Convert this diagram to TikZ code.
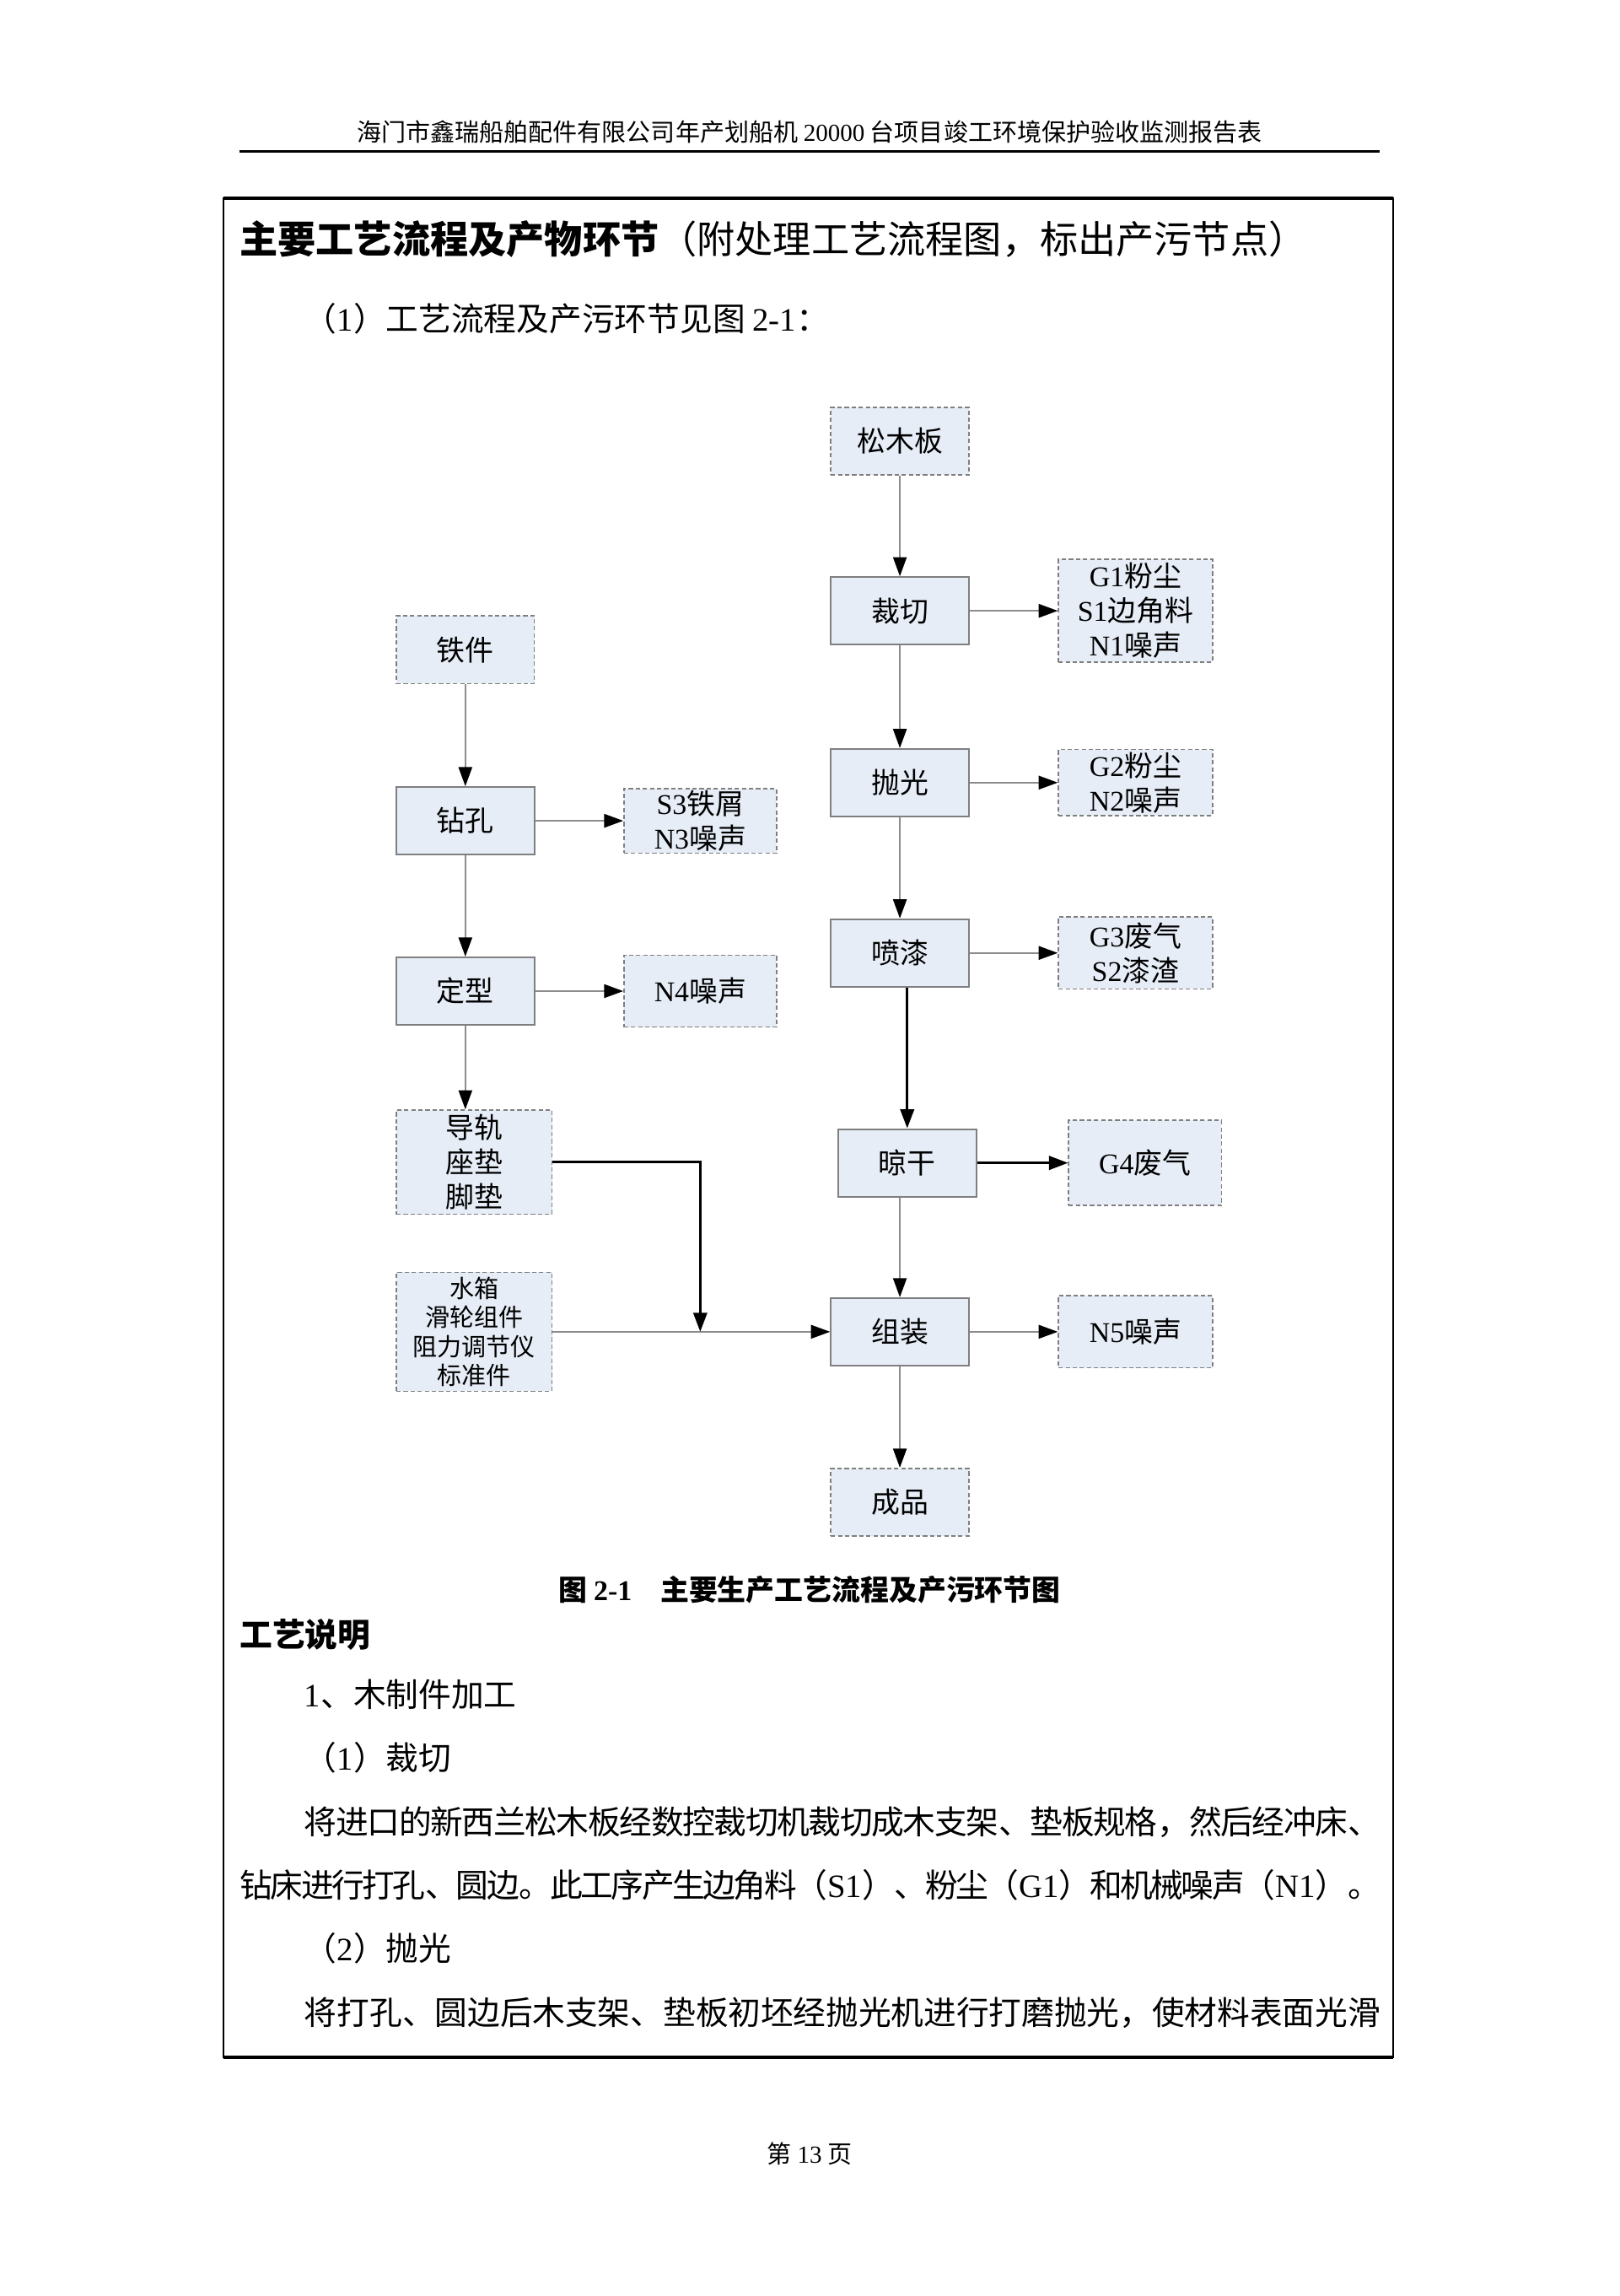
\documentclass[tikz,border=0pt]{standalone}
\usepackage{fontspec}
\setmainfont{Noto Sans CJK SC}
\newfontfamily\tnr{Liberation Serif}
\usetikzlibrary{positioning,arrows.meta}
\XeTeXlinebreaklocale "zh"
\XeTeXlinebreakskip=0pt plus 1pt minus 1pt
\definecolor{boxfill}{HTML}{E6EDF7}
\definecolor{boxline}{HTML}{7F7F7F}
\definecolor{flowline}{HTML}{8C8C8C}
\newdimen\upx
\upx=0.5394pt
\tikzset{
  proc/.style={draw=boxline, fill=boxfill, line width=0.6pt, inner sep=0pt,
    minimum width=94\upx, minimum height=46\upx, align=center,
    font=\fontsize{10.5}{12.7}\selectfont},
  part/.style={proc, dash pattern=on 1.6pt off 1pt, line width=0.5pt},
  waste/.style={part, minimum width=105\upx},
  flow/.style={draw=flowline, line width=0.5pt, -{Triangle[length=7pt,width=5pt,color=black]}},
  flowk/.style={flow, draw=black, line width=1pt},
  txt/.style={inner sep=0pt, anchor=west, font=\fontsize{12}{14}\selectfont},
}

\begin{document}
\begin{tikzpicture}[x=\upx, y=-\upx]
\useasboundingbox (0,0) rectangle (1103,1563.7);

% page head and frame
\node[inner sep=0pt, font=\fontsize{9}{11}\selectfont] (hdr) at (551.5,90)
  {海门市鑫瑞船舶配件有限公司年产划船机 {\tnr 20000} 台项目竣工环境保护验收监测报告表};
\draw[line width=1.1pt] (163,103) -- (940,103);
\draw[line width=0.6pt] (152,135) rectangle (949,1401);
\draw[line width=1.2pt] (152,135) -- (949,135) (152,1401) -- (949,1401);

\node[txt, font=\fontsize{14}{16}\selectfont] (ttl) at (163,163)
  {\textbf{主要工艺流程及产物环节}（附处理工艺流程图，标出产污节点）};
\node[txt] (sub) at (207,217) {（{\tnr 1}）工艺流程及产污环节见图 {\tnr 2-1}：};

% wood line
\node[part] (smb) at (613,300.5) {松木板};
\node[proc] (cq) at (613,416) {裁切};
\node[waste, minimum height=70\upx, right=60\upx of cq] (wcq)
  {{\tnr G1}粉尘\\{\tnr S1}边角料\\{\tnr N1}噪声};
\node[proc] (pg) at (613,533) {抛光};
\node[waste, minimum height=45\upx, right=60\upx of pg] (wpg) {{\tnr G2}粉尘\\{\tnr N2}噪声};
\node[proc] (pq) at (613,649) {喷漆};
\node[waste, minimum height=49\upx, right=60\upx of pq] (wpq) {{\tnr G3}废气\\{\tnr S2}漆渣};
\node[proc] (lg) at (618,792) {晾干};
\node[waste, minimum width=104\upx, minimum height=58\upx, right=62\upx of lg] (wlg) {{\tnr G4}废气};
\node[proc] (zz) at (613,907) {组装};
\node[waste, minimum height=49\upx, right=60\upx of zz] (wzz) {{\tnr N5}噪声};
\node[part] (cp) at (613,1023) {成品};

% iron line
\node[part] (tj) at (317,442.5) {铁件};
\node[proc] (zk) at (317,559) {钻孔};
\node[waste, minimum width=104\upx, minimum height=44\upx, right=60\upx of zk] (wzk) {{\tnr S3}铁屑\\{\tnr N3}噪声};
\node[proc] (dx) at (317,675) {定型};
\node[waste, minimum width=104\upx, minimum height=49\upx, right=60\upx of dx] (wdx) {{\tnr N4}噪声};
\node[part, minimum width=106\upx, minimum height=71\upx] (dg) at (323,791.5) {导轨\\座垫\\脚垫};
\node[part, minimum width=106\upx, minimum height=81\upx, font=\fontsize{9}{10.6}\selectfont] (sx) at (323,907)
  {水箱\\滑轮组件\\阻力调节仪\\标准件};
\coordinate (jn) at (477,907);

\foreach \a/\b in {smb/cq, cq/wcq, cq/pg, pg/wpg, pg/pq, pq/wpq, zz/wzz, zz/cp,
                   tj/zk, zk/wzk, zk/dx, dx/wdx, sx/zz}
  \draw[flow] (\a) -- (\b);
\draw[flowk] (pq.south -| lg.north) -- (lg.north);
\draw[flowk] (lg) -- (wlg);
\draw[flow] (lg.south -| zz.north) -- (zz.north);
\draw[flow] (dx.south) -- (dx.south |- dg.north);
\draw[flowk] (dg.east) -| (jn);

\node[inner sep=0pt, font=\fontsize{10.5}{12.6}\selectfont\bfseries] (cap) at (551.5,1083)
  {图 {\tnr 2-1}\hspace{1em}主要生产工艺流程及产污环节图};

% text below
\node[txt, font=\fontsize{12}{14}\selectfont\bfseries] (gysm) at (163,1113) {工艺说明};
\node[txt] (mzj) at (207,1154) {{\tnr 1}、木制件加工};
\node[txt] (st1) at (207,1197) {（{\tnr 1}）裁切};
\node[txt, text width=733\upx, align=justify] (ln1) at (207,1241)
  {\parfillskip=0pt 将进口的新西兰松木板经数控裁切机裁切成木支架、垫板规格，然后经冲床、};
\node[txt, text width=777\upx, align=justify] (ln2) at (163,1284)
  {\parfillskip=0pt 钻床进行打孔、圆边。此工序产生边角料（{\tnr S1}）、粉尘（{\tnr G1}）和机械噪声（{\tnr N1}）。};
\node[txt] (st2) at (207,1327) {（{\tnr 2}）抛光};
\node[txt, text width=733\upx, align=justify] (ln3) at (207,1371)
  {\parfillskip=0pt 将打孔、圆边后木支架、垫板初坯经抛光机进行打磨抛光，使材料表面光滑};

\node[inner sep=0pt, font=\fontsize{9}{11}\selectfont] (ftr) at (551.5,1467) {第 {\tnr 13} 页};
\end{tikzpicture}
\end{document}
